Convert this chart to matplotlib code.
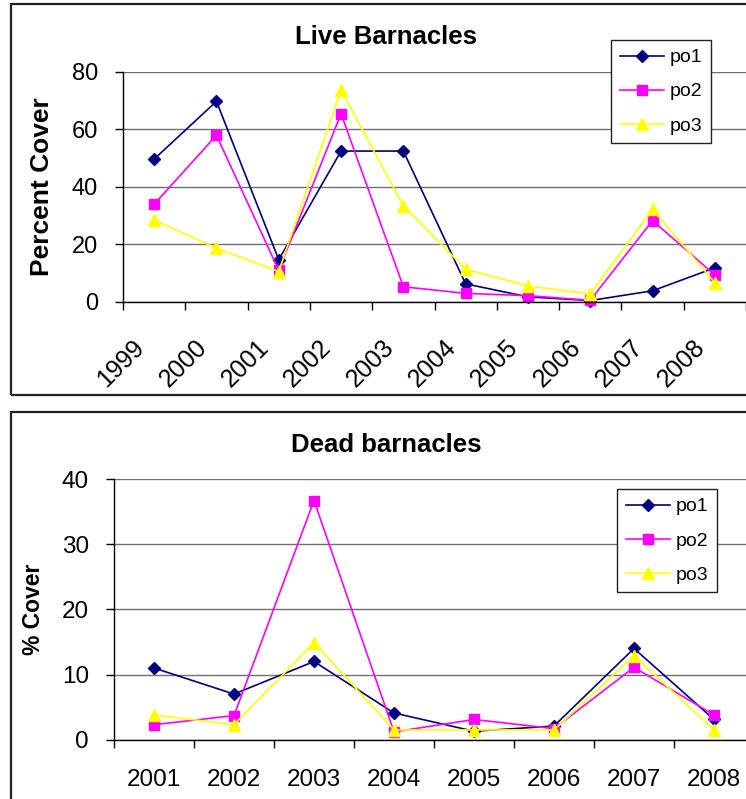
import matplotlib
matplotlib.use("Agg")
import matplotlib.pyplot as plt
from matplotlib.patches import Rectangle
import matplotlib.transforms as mtransforms

plt.rcParams['font.family'] = ['Liberation Sans', 'DejaVu Sans']

# live barnacles, percent cover per year
live_years = ['1999', '2000', '2001', '2002', '2003', '2004', '2005', '2006', '2007', '2008']
live_po1 = [49.7, 69.8, 14.7, 52.5, 52.5, 6.3, 1.8, 0.5, 3.9, 11.9]
live_po2 = [34.0, 58.0, 11.0, 65.5, 5.3, 3.0, 2.2, 0.6, 28.3, 9.4]
live_po3 = [28.5, 18.7, 10.6, 73.7, 33.5, 11.4, 5.6, 2.8, 32.2, 6.7]

# dead barnacles, percent cover per year
dead_years = ['2001', '2002', '2003', '2004', '2005', '2006', '2007', '2008']
dead_po1 = [11.0, 7.0, 12.0, 4.1, 1.3, 2.1, 14.0, 3.1]
dead_po2 = [2.3, 3.7, 36.7, 1.2, 3.1, 1.7, 11.1, 3.8]
dead_po3 = [3.8, 2.3, 14.9, 1.5, 1.5, 1.5, 12.9, 1.5]

series_names = ['po1', 'po2', 'po3']
colors = ['#000080', '#FF00FF', '#FFFF00']
markers = ['D', 's', '^']
msizes = [6.5, 7, 8]

W, H = 746, 799
fig = plt.figure(figsize=(W / 100, H / 100), dpi=100)

# outer chart boxes
fig.patches.append(Rectangle((11 / W, 1 - 395 / H), 740 / W, 391 / H,
                             transform=fig.transFigure, fill=False,
                             edgecolor='#222222', linewidth=1.6))
fig.patches.append(Rectangle((11 / W, -0.01), 740 / W, 1 - 412.5 / H + 0.01,
                             transform=fig.transFigure, fill=False,
                             edgecolor='#222222', linewidth=1.6))


def draw_panel(ax, years, data, ymax, ystep, rotate, ticksize):
    n = len(years)
    xs = [i + 0.5 for i in range(n)]
    handles = []
    for vals, c, m, ms, name in zip(data, colors, markers, msizes, series_names):
        h, = ax.plot(xs, vals, color=c, marker=m, markersize=ms,
                     markeredgecolor=c, linewidth=1.2, label=name, clip_on=False)
        handles.append(h)
    ax.set_xlim(0, n)
    ax.set_ylim(0, ymax)
    ax.set_yticks(range(0, ymax + 1, ystep))
    ax.yaxis.grid(True, color='#707070', linewidth=1.0)
    ax.set_axisbelow(True)
    for s in ['top', 'right']:
        ax.spines[s].set_visible(False)
    for s in ['left', 'bottom']:
        ax.spines[s].set_linewidth(1.0)
    # boundary ticks between categories, labels centred on categories
    ax.set_xticks(range(0, n + 1))
    ax.set_xticklabels([])
    ax.set_xticks(xs, minor=True)
    ax.tick_params(axis='x', which='major', direction='out', length=6, width=1)
    ax.tick_params(axis='y', direction='out', length=6, width=1,
                   labelsize=ticksize, pad=12)
    if rotate:
        ax.set_xticklabels(years, minor=True, rotation=45, ha='right',
                           va='top', rotation_mode='anchor')
        ax.tick_params(axis='x', which='minor', length=0, labelsize=18, pad=24)
        off = mtransforms.ScaledTranslation(-22 / 100, 0, fig.dpi_scale_trans)
        for lbl in ax.get_xticklabels(minor=True):
            lbl.set_transform(lbl.get_transform() + off)
    else:
        ax.set_xticklabels(years, minor=True)
        ax.tick_params(axis='x', which='minor', length=0, labelsize=ticksize, pad=21)
    return handles


ax1 = fig.add_axes([123 / W, 1 - 302 / H, 623 / W, 230 / H])
h1 = draw_panel(ax1, live_years, [live_po1, live_po2, live_po3], 80, 20, True, 17)

ax2 = fig.add_axes([114 / W, 1 - 739.7 / H, 640 / W, 260.7 / H])
h2 = draw_panel(ax2, dead_years, [dead_po1, dead_po2, dead_po3], 40, 10, False, 17.5)

fig.text(386 / W, 1 - 37 / H, 'Live Barnacles', ha='center', va='center',
         fontsize=18.5, fontweight='bold')
fig.text(386 / W, 1 - 445 / H, 'Dead barnacles', ha='center', va='center',
         fontsize=18.5, fontweight='bold')
fig.text(42 / W, 1 - 187 / H, 'Percent Cover', ha='center', va='center',
         rotation=90, fontsize=19, fontweight='bold')
fig.text(34 / W, 1 - 609 / H, '% Cover', ha='center', va='center',
         rotation=90, fontsize=16.5, fontweight='bold')

for handles, (lx, ly) in [(h1, (611, 40)), (h2, (617, 489))]:
    leg = fig.legend(handles=handles, loc='upper left',
                     bbox_to_anchor=(lx / W, 1 - ly / H),
                     bbox_transform=fig.transFigure, fontsize=14,
                     fancybox=False, framealpha=1, edgecolor='#222222',
                     handlelength=2.3, labelspacing=0.85, borderpad=0.45,
                     handletextpad=0.25, borderaxespad=0)
    leg.get_frame().set_linewidth(1.0)

fig.savefig('out.png', dpi=100)
